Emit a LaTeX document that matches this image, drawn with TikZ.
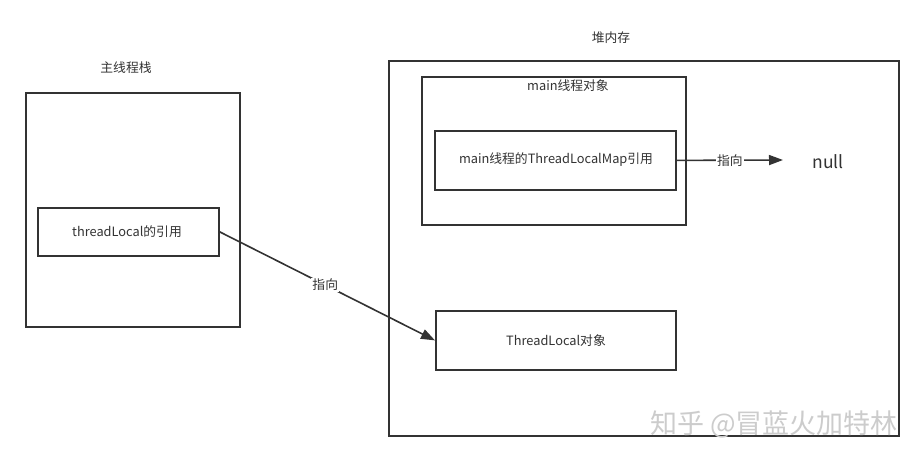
\documentclass[tikz,border=0pt]{standalone}
\usepackage{fontspec}
\setmainfont{Noto Sans CJK SC}
\usetikzlibrary{arrows.meta}
\definecolor{ln}{HTML}{333333}
\definecolor{tx}{HTML}{333333}
\tikzset{
  boxs/.style={draw=ln, line width=1.8pt, inner sep=0pt, anchor=north west},
  lbl/.style={text=tx, font=\fontsize{12.8}{15}\selectfont, inner sep=1pt},
  elbl/.style={lbl, fill=white, inner sep=1pt},
  conn/.style={draw=ln, line width=1.6pt, -{Triangle[length=14pt,width=10pt]}},
}
\begin{document}
\begin{tikzpicture}[x=1pt,y=-1pt]
\useasboundingbox[fill=white] (0,0) rectangle (922,460);
% left stack
\node[boxs, minimum width=214pt, minimum height=234pt] (stack) at (25,92) {};
\node[lbl] (stacklbl) at (126,68) {主线程栈};
\node[boxs, minimum width=181pt, minimum height=48pt] (tlref) at (37,207) {};
\node[lbl] (tlreftxt) at (127,232) {threadLocal的引用};
% heap
\node[boxs, minimum width=510pt, minimum height=375pt] (heap) at (388,60) {};
\node[lbl] (heaplbl) at (611,38) {堆内存};
\node[boxs, minimum width=264pt, minimum height=148pt] (mainobj) at (421,76) {};
\node[lbl] (mainlbl) at (568,86) {main线程对象};
\node[boxs, minimum width=241pt, minimum height=59pt] (mapref) at (434,130) {};
\node[lbl] (maptxt) at (556,160) {main线程的ThreadLocalMap引用};
\node[boxs, minimum width=240pt, minimum height=59pt] (tlobj) at (435,310) {};
\node[lbl] (tlobjtxt) at (556,341) {ThreadLocal对象};
\node[text=tx, font=\fontsize{17.5}{20}\selectfont, inner sep=0pt] (null) at (828,162) {null};
\coordinate (nullend) at (783,160);
% connectors
\draw[conn] (mapref.east) -- node[elbl] (l1) {指向} (nullend);
\draw[conn] (tlref.east) -- node[elbl, pos=0.49] (l2) {指向} (tlobj.west);
% watermark
\node[text=gray!40, draw=none, font=\fontsize{27}{30}\selectfont, inner sep=0pt, anchor=east] (wm) at (898,424) {知乎 @冒蓝火加特林};
\end{tikzpicture}
\end{document}
